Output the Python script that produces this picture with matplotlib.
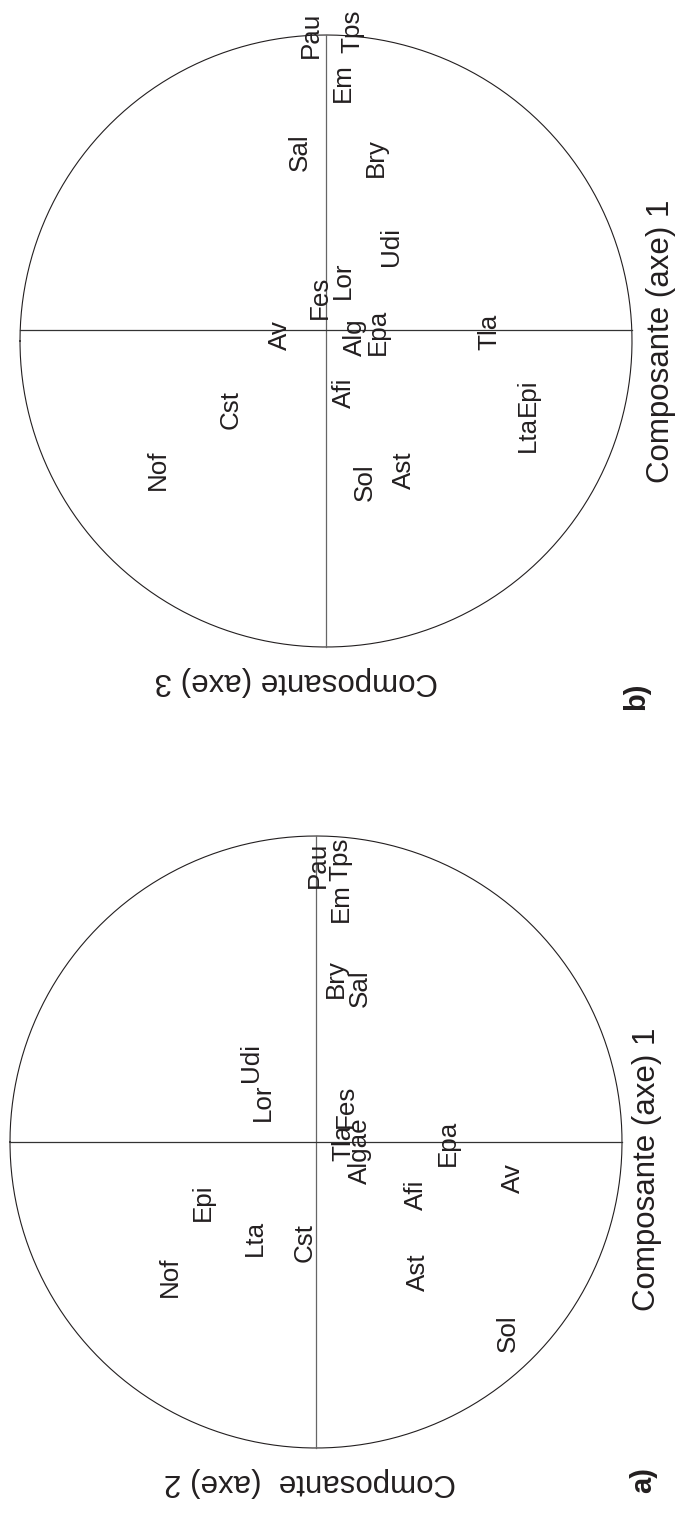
import matplotlib
matplotlib.use("Agg")
import matplotlib.pyplot as plt
import numpy as np

plt.rcParams['font.family'] = ['Liberation Sans', 'DejaVu Sans']

# panneau a) : composantes 1 et 2
noms_a = ['Pau', 'Tps', 'Em', 'Bry', 'Sal', 'Udi', 'Lor', 'Fes', 'Tla', 'Algae',
          'Epa', 'Afi', 'Cst', 'Lta', 'Epi', 'Nof', 'Ast', 'Sol', 'Av']
axe1_a = [0.905, 0.925, 0.781, 0.533, 0.503, 0.261, 0.131, 0.118, -0.003, -0.029,
          -0.003, -0.173, -0.327, -0.314, -0.196, -0.441, -0.425, -0.624, -0.118]
axe2_a = [0.003, -0.072, -0.072, -0.056, -0.134, 0.222, 0.183, -0.088, -0.082, -0.137,
          -0.422, -0.317, 0.046, 0.209, 0.379, 0.487, -0.324, -0.618, -0.634]

# panneau b) : composantes 1 et 3
noms_b = ['Pau', 'Tps', 'Em', 'Bry', 'Sal', 'Udi', 'Lor', 'Fes', 'Av', 'Alg',
          'Epa', 'Afi', 'Tla', 'Cst', 'Nof', 'Sol', 'Ast', 'Lta', 'Epi']
axe1_b = [1.0, 1.013, 0.843, 0.601, 0.618, 0.310, 0.199, 0.144, 0.020, 0.013,
          0.029, -0.170, 0.029, -0.225, -0.422, -0.461, -0.422, -0.304, -0.183]
axe3_b = [0.056, -0.078, -0.046, -0.154, 0.095, -0.203, -0.046, 0.029, 0.160, -0.085,
          -0.160, -0.052, -0.526, 0.320, 0.559, -0.118, -0.248, -0.650, -0.650]

encre = '#231f20'
W, H = 678, 1524
fig = plt.figure(figsize=(W / 100, H / 100), dpi=100)


def cercle(ax, noms, c1, c2, ylab, lettre, pos_x, pos_y, pos_l, decal_h=0.0):
    t = np.linspace(0, 2 * np.pi, 400)
    ax.plot(np.cos(t), np.sin(t), color=encre, lw=0.8)
    ax.plot([0, 0], [-1, 1], color='#666666', lw=0.9)
    dx = np.sqrt(1 - decal_h ** 2)
    ax.plot([-dx, dx], [decal_h, decal_h], color='#333333', lw=0.9)
    for n, y, x in zip(noms, c1, c2):
        ax.text(x, y, n, rotation=90, rotation_mode='anchor', ha='center',
                va='center_baseline', fontsize=18.7, color=encre)
    ax.text(pos_x[0], pos_x[1], 'Composante (axe) 1', rotation=90, rotation_mode='anchor',
            ha='center', va='center_baseline', fontsize=22.5, color=encre)
    ax.text(pos_y[0], pos_y[1], ylab, rotation=180, rotation_mode='anchor',
            ha='center', va='center_baseline', fontsize=22.5, color=encre)
    ax.text(pos_l[0], pos_l[1], lettre, rotation=90, rotation_mode='anchor',
            ha='center', va='center_baseline', fontsize=21, fontweight='bold', color=encre)
    ax.axis('off')


# b) en haut : centre (326, 341) px, rayon 306 px
r = 306.0
axb = fig.add_axes([0, 744 / H, 1, 780 / H])
cercle(axb, noms_b, axe1_b, axe3_b, 'Composante (axe) 3', 'b)',
       (-1.082, 0.0), (0.098, -1.124), (-1.003, -1.160), decal_h=0.036)
axb.set_xlim((326 - 0) / r, (326 - W) / r)
axb.set_ylim((341 - 780) / r, 341 / r)

# a) en bas : centre (316, 1142) px
axa = fig.add_axes([0, 0, 1, 744 / H])
cercle(axa, noms_a, axe1_a, axe2_a, 'Composante  (axe) 2', 'a)',
       (-1.07, -0.09), (0.02, -1.122), (-1.059, -1.105))
axa.set_xlim((316 - 0) / r, (316 - W) / r)
axa.set_ylim((1142 - H) / r, (1142 - 780) / r)

fig.savefig('out.png', dpi=100)
